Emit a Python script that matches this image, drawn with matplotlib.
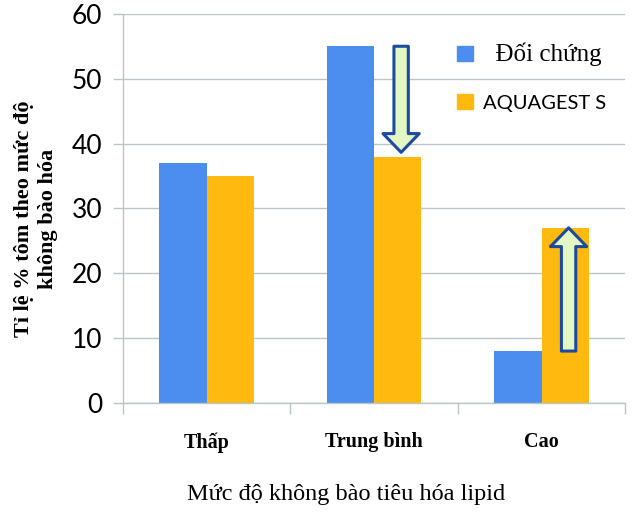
import matplotlib.pyplot as plt
from matplotlib.patches import FancyArrowPatch, Patch
from matplotlib.ticker import MultipleLocator
import numpy as np

categories = ['Thấp', 'Trung bình', 'Cao']
doi_chung = [37, 55, 8]
aquagest = [35, 38, 27]
series_names = ['Đối chứng', 'AQUAGEST S']

blue = '#4b8ef0'
orange = '#ffb90f'
grid_c = '#b8c6c9'

fig = plt.figure(figsize=(6.4, 5.12), dpi=100)
ax = fig.add_axes([0.192, 0.213, 0.785, 0.76])

x = np.arange(len(categories))
w = 0.283
ax.bar(x - w / 2, doi_chung, w, color=blue, zorder=2)
ax.bar(x + w / 2, aquagest, w, color=orange, zorder=2)

ax.set_xlim(-0.5, len(categories) - 0.5)
ax.set_ylim(0, 60)
ax.yaxis.set_major_locator(MultipleLocator(10))
ax.grid(axis='y', color=grid_c, lw=1, zorder=0)
for s in ['top', 'right']:
    ax.spines[s].set_visible(False)
for s in ['left', 'bottom']:
    ax.spines[s].set_color(grid_c)
    ax.spines[s].set_linewidth(1)

ax.tick_params(axis='y', length=7, color=grid_c, width=1, pad=8, labelsize=19)
for t in ax.get_yticklabels():
    t.set_family('Lato')

ax.set_xticks(x)
ax.set_xticklabels(categories, family='Liberation Serif', fontweight='bold', fontsize=14.5)
ax.tick_params(axis='x', which='major', length=0, pad=21)
ax.set_xticks(np.arange(-0.5, len(categories)), minor=True)
ax.tick_params(axis='x', which='minor', length=8, color=grid_c, width=1)

# arrows showing change from control to treatment
for i in [1, 2]:
    start, end = doi_chung[i], aquagest[i]
    arr = FancyArrowPatch((x[i] + w / 2 + 0.02, start), (x[i] + w / 2 + 0.02, end),
                          arrowstyle='simple,head_width=2.9,head_length=1.5,tail_width=1.15',
                          mutation_scale=9, shrinkA=0, shrinkB=3 if end < start else 0,
                          facecolor='#e2f7c2', edgecolor='#1c4a9e', lw=2.2, zorder=4)
    ax.add_patch(arr)

handles = [Patch(color=blue), Patch(color=orange)]
leg = ax.legend(handles, ['  ' + series_names[0], series_names[1]],
                loc='upper left', bbox_to_anchor=(0.628, 0.975), frameon=False,
                handlelength=0.75, handleheight=0.75, handletextpad=0.5,
                labelspacing=1.35, fontsize=15)
leg.get_texts()[0].set_family('Liberation Serif')
leg.get_texts()[0].set_fontsize(18)
leg.get_texts()[1].set_family('Lato')
leg.get_texts()[1].set_fontsize(14.5)

fig.text(0.056, 0.572, 'Tỉ lệ % tôm theo mức độ\nkhông bào hóa', rotation=90,
         ha='center', va='center', family='Liberation Serif', fontweight='bold',
         fontsize=16, linespacing=1.3)
fig.text(0.54, 0.035, 'Mức độ không bào tiêu hóa lipid', ha='center', va='center',
         family='Liberation Serif', fontsize=17.5)

fig.savefig('out.png', dpi=100)
